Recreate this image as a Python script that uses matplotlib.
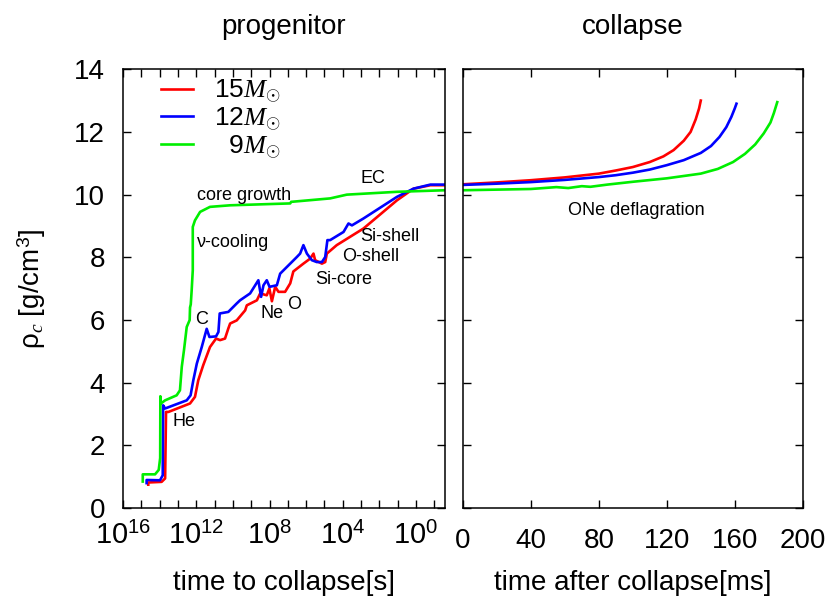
import numpy as np
import matplotlib
matplotlib.use("Agg")
import matplotlib.pyplot as plt
from matplotlib.ticker import FixedLocator, FuncFormatter, MultipleLocator

plt.rcParams['font.family'] = ['Liberation Sans', 'DejaVu Sans']
plt.rcParams['mathtext.fontset'] = 'custom'
plt.rcParams['mathtext.rm'] = 'Liberation Sans'
plt.rcParams['mathtext.it'] = 'Liberation Serif:italic'
plt.rcParams['mathtext.bf'] = 'Liberation Sans:bold'

# progenitor: log10(time to collapse [s]) , central density
logt_15 = [14.62, 14.62, 13.89, 13.70, 13.65, 13.52, 12.34, 12.07, 11.89, 11.62, 11.25, 10.92,
           10.70, 10.43, 10.25, 10.15, 9.79, 9.33, 9.24, 8.69, 8.51, 8.15, 8.01, 7.87, 7.69,
           7.51, 7.15, 6.87, 6.70, 6.15, 5.78, 5.60, 5.51, 5.14, 4.96, 4.87, 4.33, 2.87, 1.04,
           0.14, -0.78, -1.58]
rho_15 = [0.75, 0.82, 0.84, 0.95, 3.07, 3.07, 3.34, 3.55, 4.08, 4.56, 5.14, 5.41,
          5.36, 5.41, 5.73, 5.89, 5.99, 6.31, 6.47, 6.63, 6.85, 6.79, 7.01, 6.60, 7.06,
          6.90, 6.90, 7.17, 7.55, 7.80, 7.96, 8.12, 7.91, 7.80, 7.85, 8.12, 8.39, 8.92, 9.82,
          10.19, 10.30, 10.30]

logt_12 = [14.71, 14.71, 13.98, 13.83, 13.81, 13.70, 12.52, 12.31, 12.16, 11.97, 11.70, 11.43,
           11.28, 10.92, 10.79, 10.72, 10.25, 9.79, 9.61, 9.06, 8.61, 8.46, 8.33, 8.15, 8.00,
           7.60, 7.42, 6.87, 6.51, 6.33, 6.15, 5.96, 5.69, 5.42, 5.14, 4.96, 4.84, 4.69, 3.96,
           3.69, 3.50, 2.87, 1.04, 0.14, -0.78, -1.58]
rho_12 = [0.80, 0.90, 0.89, 1.05, 3.28, 3.18, 3.44, 3.60, 4.08, 4.61, 5.14, 5.72,
          5.46, 5.48, 5.62, 6.21, 6.26, 6.53, 6.63, 6.85, 7.27, 6.74, 7.11, 7.27, 7.06,
          7.11, 7.48, 7.80, 8.01, 8.12, 8.39, 8.12, 7.91, 7.85, 7.85, 8.01, 8.55, 8.55, 8.81,
          9.08, 9.02, 9.24, 9.93, 10.19, 10.32, 10.32]

logt_9 = [14.92, 14.92, 14.25, 14.05, 13.97, 13.96, 13.93, 13.70, 13.07, 12.89, 12.79, 12.67,
          12.52, 12.36, 12.34, 12.30, 12.25, 12.19, 12.19, 12.07, 11.79, 11.25, 10.15, 6.87,
          6.82, 4.69, 3.78, 1.04, -1.58]
rho_9 = [0.85, 1.08, 1.08, 1.22, 1.60, 3.57, 3.34, 3.44, 3.60, 3.76, 4.51, 5.04,
         5.78, 6.00, 6.40, 6.50, 6.95, 7.59, 8.97, 9.18, 9.45, 9.61, 9.66, 9.72,
         9.77, 9.88, 10.00, 10.09, 10.14]

# collapse: time after collapse [ms], central density
tc_15 = [0, 20, 40, 60, 80, 90, 100, 110, 118, 124, 130, 134, 137, 139, 140]
rc_15 = [10.33, 10.39, 10.46, 10.55, 10.67, 10.77, 10.88, 11.04, 11.22, 11.42, 11.72, 12.00,
         12.40, 12.75, 13.00]
tc_12 = [0, 20, 40, 60, 80, 90, 100, 110, 120, 130, 140, 146, 151, 155, 158, 160, 161]
rc_12 = [10.31, 10.35, 10.40, 10.47, 10.56, 10.62, 10.70, 10.80, 10.94, 11.10, 11.33, 11.55,
         11.84, 12.15, 12.48, 12.75, 12.90]
tc_9 = [0, 20, 40, 55, 62, 70, 75, 85, 100, 120, 140, 150, 159, 166, 172, 177, 181, 183, 185]
rc_9 = [10.14, 10.16, 10.18, 10.24, 10.21, 10.27, 10.25, 10.32, 10.41, 10.52, 10.67, 10.82,
        11.04, 11.30, 11.60, 11.95, 12.30, 12.60, 12.95]

labels = ['15$M_{\\odot}$', '12$M_{\\odot}$', '\u20079$M_{\\odot}$']
colors = ['#ff0000', '#0000ff', '#00ee00']

# annotations: (text, log10 t, rho)
notes_prog = [('He', 13.28, 2.75), ('C', 12.07, 6.03), ('Ne', 8.51, 6.22), ('O', 7.05, 6.50),
              ('Si-core', 5.51, 7.30), ('O-shell', 4.05, 8.04), ('Si-shell', 3.05, 8.67),
              ('EC', 3.05, 10.52), ('core growth', 11.97, 9.98), ('\u03bd-cooling', 11.97, 8.48)]
notes_coll = [('ONe deflagration', 102, 9.50)]

fig = plt.figure(figsize=(8.31, 6.05), dpi=100)
ax1 = fig.add_axes([0.148, 0.160, 0.3875, 0.7256])
ax2 = fig.add_axes([0.557, 0.160, 0.409, 0.7256])

for lt, r, lab, c in zip([logt_15, logt_12, logt_9], [rho_15, rho_12, rho_9], labels, colors):
    ax1.plot(10.0 ** np.array(lt), r, color=c, lw=1.9, label=lab)
for t, r, c in zip([tc_15, tc_12, tc_9], [rc_15, rc_12, rc_9], colors):
    ax2.plot(t, r, color=c, lw=1.9)

for txt, lt, r in notes_prog:
    ax1.text(10.0 ** lt, r, txt, fontsize=13, ha='left', va='center')
for txt, t, r in notes_coll:
    ax2.text(t, r, txt, fontsize=13, ha='center', va='center')

ax1.set_xscale('log')
ax1.set_xlim(1e16, 10 ** -1.58)
ax1.xaxis.set_major_locator(FixedLocator(10.0 ** np.arange(-1, 17)))
ax1.xaxis.set_minor_locator(FixedLocator([]))
ax1.xaxis.set_major_formatter(FuncFormatter(
    lambda v, p: '$10^{%d}$' % round(np.log10(v)) if round(np.log10(v)) % 4 == 0 else ''))

ax2.set_xlim(0, 200)
ax2.xaxis.set_major_locator(MultipleLocator(40))

for ax in (ax1, ax2):
    ax.set_ylim(0, 14)
    ax.yaxis.set_major_locator(MultipleLocator(2))
    ax.tick_params(direction='in', top=True, right=True, length=6, width=1,
                   labelsize=20, pad=13)
    for s in ax.spines.values():
        s.set_linewidth(1.1)
ax2.tick_params(labelleft=False)
ax1.tick_params(axis='x', pad=10, labelsize=21)
ax2.tick_params(axis='x', pad=14)

ax1.set_ylabel('\u03c1$_{c}$ [g/cm$^3$]', fontsize=20, labelpad=19)
ax1.set_xlabel('time to collapse[s]', fontsize=20)
ax2.set_xlabel('time after collapse[ms]', fontsize=20)
for ax in (ax1, ax2):
    ax.xaxis.set_label_coords(0.5, -0.14)
ax1.set_title('progenitor', fontsize=20, pad=25)
ax2.set_title('collapse', fontsize=20, pad=25)

ax1.legend(loc='upper left', frameon=False, fontsize=19, handlelength=1.2,
           handletextpad=0.8, labelspacing=0.0, borderaxespad=0.0,
           bbox_to_anchor=(0.085, 1.005))

fig.savefig('out.png', dpi=100)
